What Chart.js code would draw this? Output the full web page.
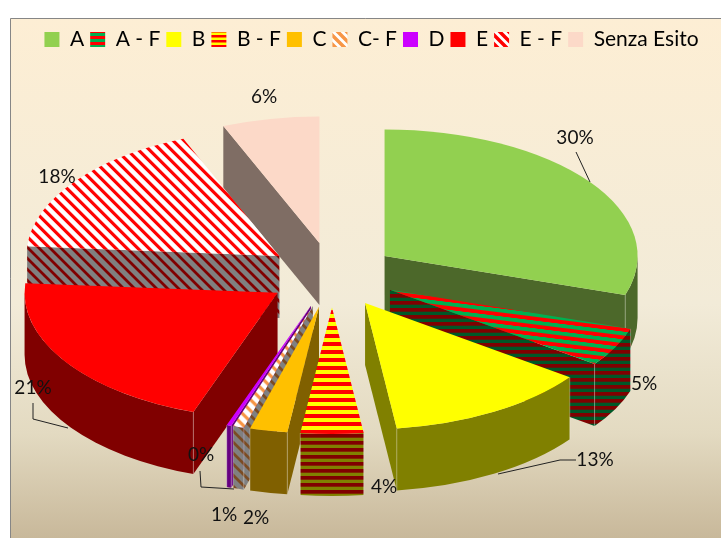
<!DOCTYPE html>
<html>
<head>
<meta charset="utf-8">
<script src="https://cdn.jsdelivr.net/npm/chart.js@4"></script>
<style>
  html, body { margin: 0; padding: 0; background: #fff; }
  #wrap { width: 721px; height: 538px; }
</style>
</head>
<body>
<div id="wrap"><canvas id="g1"></canvas></div>
<script>
//data
var categories = ['A', 'A - F', 'B', 'B - F', 'C', 'C- F', 'D', 'E', 'E - F', 'Senza Esito'];
var values = [30, 5, 13, 4, 2.4, 0.7, 0.3, 20.8, 17.6, 6.2];

//3d look of the pie
var pieX = 332, pieY = 275, pieR = 253;
var squash = 0.5, depth = 62, explode = 65;
// back to front, so the front slices cover the walls behind them
var paintOrder = [9, 8, 0, 1, 7, 2, 6, 5, 4, 3];

//text of the labels, leader lines in page pixels
var labelSpots = [
    {x: 575, y: 138, line: [[576, 152], [590, 182]]},
    {x: 644, y: 384},
    {x: 595, y: 460, line: [[498, 474], [560, 460], [576, 460]]},
    {x: 384, y: 487},
    {x: 256, y: 518},
    {x: 224, y: 515},
    {x: 201, y: 455, line: [[200, 471], [201, 487], [234, 489]]},
    {x: 33, y: 388, line: [[33, 403], [33, 419], [68, 428]]},
    {x: 57, y: 177},
    {x: 264, y: 97}
];

//tiles for the striped fills
function tile(w, h, paint) {
    var c = document.createElement('canvas');
    c.width = w;
    c.height = h;
    paint(c.getContext('2d'));
    return c;
}

function bands(c1, c2, size, turn) {
    var t = tile(4, size, function(g) {
        g.fillStyle = c1;
        g.fillRect(0, 0, 4, size);
        g.fillStyle = c2;
        g.fillRect(0, size / 2, 4, size / 2);
    });
    var p = document.createElement('canvas').getContext('2d').createPattern(t, 'repeat');
    if (turn) p.setTransform(new DOMMatrix().rotate(turn));
    return p;
}

function hatch(bg, line, w, h, lw) {
    var t = tile(w, h, function(g) {
        g.fillStyle = bg;
        g.fillRect(0, 0, w, h);
        g.strokeStyle = line;
        g.lineWidth = lw;
        g.beginPath();
        g.moveTo(-w, -h); g.lineTo(w * 2, h * 2);
        g.moveTo(-w * 2, -h); g.lineTo(w, h * 2);
        g.moveTo(0, -h); g.lineTo(w * 3, h * 2);
        g.stroke();
    });
    return document.createElement('canvas').getContext('2d').createPattern(t, 'repeat');
}

var topFills = [
    '#92d050',
    bands('#00b050', '#ff0000', 15, 14),
    '#ffff00',
    bands('#ff0000', '#ffff00', 16),
    '#ffc000',
    hatch('#ffffff', '#f79646', 11, 22, 4),
    '#cc00ff',
    '#ff0000',
    hatch('#ffffff', '#ff0000', 11, 22, 4),
    '#fcd9c8'
];

var sideFills = [
    '#4c682a',
    bands('#800000', '#005828', 7.4),
    '#808000',
    bands('#800000', '#808000', 7.4),
    '#806000',
    hatch('#808080', '#7b4b23', 11, 11, 2.8),
    '#660080',
    '#800000',
    hatch('#808080', '#800000', 11, 11, 2.8),
    '#7f6d64'
];

var legendFills = [
    '#92d050',
    bands('#ff0000', '#00b050', 6),
    '#ffff00',
    bands('#ff0000', '#ffff00', 5),
    '#ffc000',
    hatch('#ffffff', '#f79646', 9, 9, 3.5),
    '#cc00ff',
    '#ff0000',
    hatch('#ffffff', '#ff0000', 9, 9, 3.5),
    '#fcd9c8'
];

//page background and frame
var framePlugin = {
    id: 'frame',
    beforeDraw: function(chart) {
        var ctx = chart.ctx;
        var grad = ctx.createLinearGradient(0, 18, 0, 538);
        grad.addColorStop(0, '#fdeed4');
        grad.addColorStop(0.55, '#f2ebd8');
        grad.addColorStop(0.8, '#e3dac1');
        grad.addColorStop(1, '#c8b89a');
        ctx.save();
        ctx.fillStyle = '#ffffff';
        ctx.fillRect(0, 0, 721, 538);
        ctx.fillStyle = grad;
        ctx.fillRect(10, 18, 711, 520);
        ctx.strokeStyle = '#868686';
        ctx.lineWidth = 1;
        ctx.beginPath();
        ctx.moveTo(10.5, 538);
        ctx.lineTo(10.5, 18.5);
        ctx.lineTo(721, 18.5);
        ctx.stroke();
        ctx.restore();
    }
};

function wall(ctx, x1, y1, x2, y2) {
    ctx.beginPath();
    ctx.moveTo(x1, y1);
    ctx.lineTo(x2, y2);
    ctx.lineTo(x2, y2 + depth);
    ctx.lineTo(x1, y1 + depth);
    ctx.closePath();
    ctx.fill();
}

//walls first, then the library draws the slice on top of them, squashed
var pie3dPlugin = {
    id: 'pie3d',
    beforeDatasetDraw: function(chart, args) {
        var ctx = chart.ctx;
        var arcs = args.meta.data;
        paintOrder.forEach(function(i) {
            var arc = arcs[i];
            var a0 = arc.startAngle, a1 = arc.endAngle;
            var mid = (a0 + a1) / 2;
            var ox = pieX + Math.cos(mid) * explode;
            var oy = pieY + Math.sin(mid) * explode * squash;
            var r = arc.outerRadius;

            ctx.save();
            ctx.fillStyle = sideFills[i];
            if (Math.cos(a0) < 0) {
                wall(ctx, ox, oy, ox + Math.cos(a0) * r, oy + Math.sin(a0) * r * squash);
            }
            if (Math.cos(a1) > 0) {
                wall(ctx, ox, oy, ox + Math.cos(a1) * r, oy + Math.sin(a1) * r * squash);
            }
            // outer wall, only the part in the front half
            var from = Math.max(a0, 0), to = Math.min(a1, Math.PI);
            if (to > from) {
                ctx.beginPath();
                ctx.ellipse(ox, oy, r, r * squash, 0, from, to);
                ctx.ellipse(ox, oy + depth, r, r * squash, 0, to, from, true);
                ctx.closePath();
                ctx.fill();
                // light edge where the walls meet
                ctx.strokeStyle = 'rgba(255,255,255,0.3)';
                ctx.lineWidth = 1;
                [from, to].forEach(function(a) {
                    var ex = ox + Math.cos(a) * r, ey = oy + Math.sin(a) * r * squash;
                    if (a === a0 || a === a1) {
                        ctx.beginPath();
                        ctx.moveTo(ex, ey);
                        ctx.lineTo(ex, ey + depth);
                        ctx.stroke();
                    }
                });
            }
            ctx.restore();

            ctx.save();
            ctx.translate(ox, oy);
            ctx.scale(1, squash);
            ctx.translate(-arc.x, -arc.y);
            arc.draw(ctx);
            ctx.restore();
        });
        return false;
    },
    afterDraw: function(chart) {
        var ctx = chart.ctx;
        var total = values.reduce(function(s, v) { return s + v; }, 0);
        ctx.save();
        ctx.font = '19px Lato';
        ctx.textAlign = 'center';
        ctx.textBaseline = 'middle';
        labelSpots.forEach(function(spot, i) {
            if (spot.line) {
                ctx.strokeStyle = '#222222';
                ctx.lineWidth = 1;
                ctx.beginPath();
                spot.line.forEach(function(p, k) {
                    if (k === 0) ctx.moveTo(p[0], p[1]);
                    else ctx.lineTo(p[0], p[1]);
                });
                ctx.stroke();
            }
            ctx.fillStyle = '#111111';
            ctx.fillText(Math.round(values[i] / total * 100) + '%', spot.x, spot.y);
        });
        ctx.restore();
    }
};

//Create Grafik
var ctx_1 = document.getElementById('g1');

var myChart = new Chart(ctx_1, {
    type: 'pie',
    data: {
        labels: categories,
        datasets: [{
            data: values,
            backgroundColor: topFills,
            borderWidth: 0,
            radius: pieR
        }]
    },
    options: {
        responsive: true,
        maintainAspectRatio: false,
        animation: false,
        layout: {
            padding: {top: 23, left: 22}
        },
        plugins: {
            legend: {
                position: 'top',
                labels: {
                    boxWidth: 15,
                    boxHeight: 15,
                    padding: 6,
                    color: '#111111',
                    font: {family: 'Lato', size: 21},
                    generateLabels: function() {
                        return categories.map(function(c, i) {
                            return {text: c, fillStyle: legendFills[i], strokeStyle: 'rgba(0,0,0,0)', lineWidth: 0, index: i};
                        });
                    }
                }
            },
            tooltip: {enabled: false}
        }
    },
    plugins: [framePlugin, pie3dPlugin]
});
</script>
</body>
</html>
